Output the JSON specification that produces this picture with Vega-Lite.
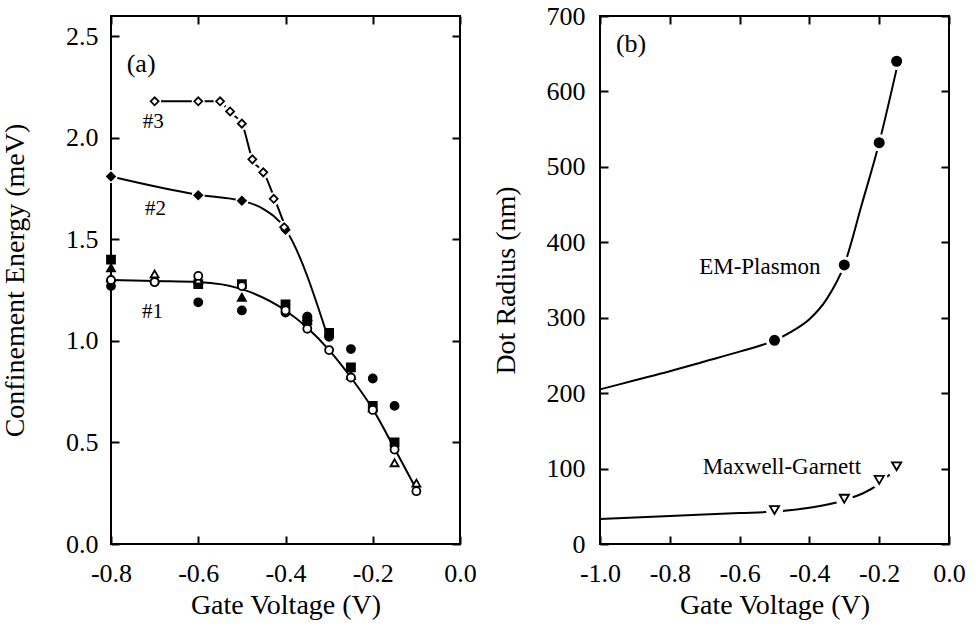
{
  "$schema": "https://vega.github.io/schema/vega-lite/v6.json",
  "background": "white",
  "padding": {"left": 0, "top": 2, "right": 5, "bottom": 5},
  "spacing": 140,
  "bounds": "flush",
  "resolve": {"scale": {"shape": "independent", "fill": "independent", "strokeDash": "independent"}},
  "datasets": {
    "leftLines": [
      {"s": "#1", "v": -0.8, "e": 1.30}, {"s": "#1", "v": -0.7, "e": 1.295}, {"s": "#1", "v": -0.6, "e": 1.29},
      {"s": "#1", "v": -0.5, "e": 1.255}, {"s": "#1", "v": -0.4, "e": 1.15}, {"s": "#1", "v": -0.35, "e": 1.065},
      {"s": "#1", "v": -0.3, "e": 0.955}, {"s": "#1", "v": -0.25, "e": 0.82}, {"s": "#1", "v": -0.2, "e": 0.665},
      {"s": "#1", "v": -0.15, "e": 0.47}, {"s": "#1", "v": -0.1, "e": 0.27},
      {"s": "#2", "v": -0.8, "e": 1.81}, {"s": "#2", "v": -0.6, "e": 1.72}, {"s": "#2", "v": -0.5, "e": 1.69},
      {"s": "#2", "v": -0.455, "e": 1.655}, {"s": "#2", "v": -0.4, "e": 1.55}, {"s": "#2", "v": -0.3, "e": 1.0},
      {"s": "#3", "v": -0.7, "e": 2.18}, {"s": "#3", "v": -0.6, "e": 2.18}, {"s": "#3", "v": -0.55, "e": 2.18},
      {"s": "#3", "v": -0.53, "e": 2.13}, {"s": "#3", "v": -0.5, "e": 2.07}, {"s": "#3", "v": -0.475, "e": 1.89},
      {"s": "#3", "v": -0.45, "e": 1.83}, {"s": "#3", "v": -0.425, "e": 1.70}, {"s": "#3", "v": -0.4, "e": 1.56}
    ],
    "leftPts": [
      {"m": "filled square", "v": -0.8, "e": 1.40}, {"m": "filled square", "v": -0.6, "e": 1.28}, {"m": "filled square", "v": -0.5, "e": 1.28},
      {"m": "filled square", "v": -0.4, "e": 1.18}, {"m": "filled square", "v": -0.35, "e": 1.10}, {"m": "filled square", "v": -0.3, "e": 1.04},
      {"m": "filled square", "v": -0.25, "e": 0.87}, {"m": "filled square", "v": -0.2, "e": 0.68}, {"m": "filled square", "v": -0.15, "e": 0.50},
      {"m": "filled triangle", "v": -0.5, "e": 1.215}, {"m": "filled triangle", "v": -0.8, "e": 1.36}, {"m": "filled triangle", "v": -0.35, "e": 1.12},
      {"m": "filled circle", "v": -0.8, "e": 1.27}, {"m": "filled circle", "v": -0.7, "e": 1.29}, {"m": "filled circle", "v": -0.6, "e": 1.19},
      {"m": "filled circle", "v": -0.5, "e": 1.15}, {"m": "filled circle", "v": -0.4, "e": 1.14}, {"m": "filled circle", "v": -0.35, "e": 1.12},
      {"m": "filled circle", "v": -0.3, "e": 1.02}, {"m": "filled circle", "v": -0.25, "e": 0.96}, {"m": "filled circle", "v": -0.2, "e": 0.815},
      {"m": "filled circle", "v": -0.15, "e": 0.68},
      {"m": "open triangle", "v": -0.8, "e": 1.31}, {"m": "open triangle", "v": -0.7, "e": 1.33}, {"m": "open triangle", "v": -0.6, "e": 1.30},
      {"m": "open triangle", "v": -0.25, "e": 0.83}, {"m": "open triangle", "v": -0.2, "e": 0.67}, {"m": "open triangle", "v": -0.15, "e": 0.40},
      {"m": "open triangle", "v": -0.1, "e": 0.30},
      {"m": "open circle", "v": -0.8, "e": 1.30}, {"m": "open circle", "v": -0.7, "e": 1.29}, {"m": "open circle", "v": -0.6, "e": 1.32},
      {"m": "open circle", "v": -0.5, "e": 1.27}, {"m": "open circle", "v": -0.4, "e": 1.15}, {"m": "open circle", "v": -0.35, "e": 1.06},
      {"m": "open circle", "v": -0.3, "e": 0.955}, {"m": "open circle", "v": -0.25, "e": 0.82}, {"m": "open circle", "v": -0.2, "e": 0.66},
      {"m": "open circle", "v": -0.15, "e": 0.465}, {"m": "open circle", "v": -0.1, "e": 0.26},
      {"m": "filled diamond", "v": -0.8, "e": 1.81}, {"m": "filled diamond", "v": -0.6, "e": 1.717}, {"m": "filled diamond", "v": -0.5, "e": 1.69},
      {"m": "filled diamond", "v": -0.4, "e": 1.547},
      {"m": "open diamond", "v": -0.7, "e": 2.18}, {"m": "open diamond", "v": -0.6, "e": 2.18}, {"m": "open diamond", "v": -0.55, "e": 2.18},
      {"m": "open diamond", "v": -0.527, "e": 2.13}, {"m": "open diamond", "v": -0.5, "e": 2.07}, {"m": "open diamond", "v": -0.476, "e": 1.894},
      {"m": "open diamond", "v": -0.451, "e": 1.83}, {"m": "open diamond", "v": -0.427, "e": 1.70}, {"m": "open diamond", "v": -0.403, "e": 1.56}
    ],
    "leftText": [
      {"t": "#3", "k": "small", "v": -0.703, "e": 2.076},
      {"t": "#2", "k": "small", "v": -0.698, "e": 1.649},
      {"t": "#1", "k": "small", "v": -0.705, "e": 1.142},
      {"t": "(a)", "k": "big", "v": -0.731, "e": 2.365}
    ],
    "rightLines": [
      {"s": "EM", "v": -1.0, "r": 205}, {"s": "EM", "v": -0.9, "r": 217}, {"s": "EM", "v": -0.8, "r": 229},
      {"s": "EM", "v": -0.7, "r": 242}, {"s": "EM", "v": -0.6, "r": 255}, {"s": "EM", "v": -0.5, "r": 270},
      {"s": "EM", "v": -0.45, "r": 282}, {"s": "EM", "v": -0.4, "r": 298}, {"s": "EM", "v": -0.35, "r": 325},
      {"s": "EM", "v": -0.3, "r": 370}, {"s": "EM", "v": -0.25, "r": 450}, {"s": "EM", "v": -0.2, "r": 532},
      {"s": "EM", "v": -0.15, "r": 630},
      {"s": "MG", "v": -1.0, "r": 33}, {"s": "MG", "v": -0.8, "r": 37}, {"s": "MG", "v": -0.6, "r": 41},
      {"s": "MG", "v": -0.5, "r": 43}, {"s": "MG", "v": -0.4, "r": 48}, {"s": "MG", "v": -0.3, "r": 58},
      {"s": "MG", "v": -0.2, "r": 80}, {"s": "MG", "v": -0.17, "r": 92}
    ],
    "rightPts": [
      {"m": "EM", "v": -0.5, "r": 270}, {"m": "EM", "v": -0.3, "r": 370}, {"m": "EM", "v": -0.2, "r": 532}, {"m": "EM", "v": -0.15, "r": 640},
      {"m": "MG", "v": -0.5, "r": 45}, {"m": "MG", "v": -0.3, "r": 60}, {"m": "MG", "v": -0.2, "r": 85}, {"m": "MG", "v": -0.15, "r": 103}
    ],
    "rightText": [
      {"t": "(b)", "k": "big", "v": -0.911, "r": 663},
      {"t": "EM-Plasmon", "k": "mid", "v": -0.542, "r": 367},
      {"t": "Maxwell-Garnett", "k": "mid", "v": -0.479, "r": 102}
    ]
  },
  "hconcat": [
    {
      "width": 349,
      "height": 528,
      "resolve": {"axis": {"x": "independent", "y": "independent"}},
      "layer": [
        {
          "data": {"name": "leftLines"},
          "mark": {"type": "line", "interpolate": "monotone", "color": "black", "strokeWidth": 2},
          "encoding": {
            "x": {"field": "v", "type": "quantitative", "scale": {"domain": [-0.8, 0]},
              "axis": {"values": [-0.8, -0.6, -0.4, -0.2, 0], "format": ".1f", "labelExpr": "replace(datum.label, '\u2212', '-')", "title": "Gate Voltage (V)", "labelPadding": 24, "titlePadding": 5}},
            "y": {"field": "e", "type": "quantitative", "scale": {"domain": [0, 2.5]},
              "axis": {"values": [0, 0.5, 1, 1.5, 2, 2.5], "format": ".1f", "title": "Confinement Energy (meV)", "labelPadding": 21, "titlePadding": 36}},
            "detail": {"field": "s"}
          }
        },
        {
          "data": {"name": "leftPts"},
          "transform": [{"filter": "datum.m == 'open diamond' || datum.m == 'filled diamond'"}],
          "mark": {"type": "point", "shape": "circle", "filled": true, "color": "white", "opacity": 1, "size": 170},
          "encoding": {
            "x": {"field": "v", "type": "quantitative", "axis": null},
            "y": {"field": "e", "type": "quantitative", "axis": null}
          }
        },
        {
          "data": {"name": "leftPts"},
          "mark": {"type": "point", "filled": true, "stroke": "black", "strokeWidth": 1.8, "opacity": 1, "size": 64},
          "encoding": {
            "x": {"field": "v", "type": "quantitative", "axis": null},
            "y": {"field": "e", "type": "quantitative", "axis": null},
            "shape": {"field": "m", "type": "nominal", "legend": null,
              "scale": {"domain": ["filled square", "filled triangle", "filled circle", "open triangle", "open circle", "filled diamond", "open diamond"],
                        "range": ["square", "triangle-up", "circle", "triangle-up", "circle", "diamond", "diamond"]}},
            "fill": {"field": "m", "type": "nominal", "legend": null,
              "scale": {"domain": ["filled square", "filled triangle", "filled circle", "open triangle", "open circle", "filled diamond", "open diamond"],
                        "range": ["black", "black", "black", "white", "white", "black", "white"]}}
          }
        },
        {
          "data": {"name": "leftText"},
          "transform": [{"filter": "datum.k == 'small'"}],
          "mark": {"type": "text", "fontSize": 21, "font": "Liberation Serif", "color": "black", "align": "center", "baseline": "middle"},
          "encoding": {
            "x": {"field": "v", "type": "quantitative", "axis": null},
            "y": {"field": "e", "type": "quantitative", "axis": null},
            "text": {"field": "t"}
          }
        },
        {
          "data": {"name": "leftText"},
          "transform": [{"filter": "datum.k == 'big'"}],
          "mark": {"type": "text", "fontSize": 26, "font": "Liberation Serif", "color": "black", "align": "center", "baseline": "middle"},
          "encoding": {
            "x": {"field": "v", "type": "quantitative", "axis": null},
            "y": {"field": "e", "type": "quantitative", "axis": null},
            "text": {"field": "t"}
          }
        },
        {
          "data": {"name": "leftLines"},
          "mark": {"type": "point", "opacity": 0},
          "encoding": {
            "x": {"field": "v", "type": "quantitative", "axis": {"orient": "top", "labels": false, "title": null, "values": [-0.8, -0.6, -0.4, -0.2, 0]}},
            "y": {"field": "e", "type": "quantitative", "axis": {"orient": "right", "labels": false, "title": null, "values": [0, 0.5, 1, 1.5, 2, 2.5]}}
          }
        }
      ]
    },
    {
      "width": 349,
      "height": 528,
      "resolve": {"axis": {"x": "independent", "y": "independent"}},
      "layer": [
        {
          "data": {"name": "rightLines"},
          "mark": {"type": "line", "interpolate": "monotone", "color": "black", "strokeWidth": 2},
          "encoding": {
            "x": {"field": "v", "type": "quantitative", "scale": {"domain": [-1.0, 0]},
              "axis": {"values": [-1.0, -0.8, -0.6, -0.4, -0.2, 0], "format": ".1f", "labelExpr": "replace(datum.label, '\u2212', '-')", "title": "Gate Voltage (V)", "labelPadding": 24, "titlePadding": 5}},
            "y": {"field": "r", "type": "quantitative", "scale": {"domain": [0, 700]},
              "axis": {"values": [0, 100, 200, 300, 400, 500, 600, 700], "format": "d", "title": "Dot Radius (nm)", "labelPadding": 23, "titlePadding": 26}},
            "detail": {"field": "s"}
          }
        },
        {
          "data": {"name": "rightPts"},
          "mark": {"type": "point", "shape": "circle", "filled": true, "color": "white", "opacity": 1, "size": 300},
          "encoding": {
            "x": {"field": "v", "type": "quantitative", "axis": null},
            "y": {"field": "r", "type": "quantitative", "axis": null}
          }
        },
        {
          "data": {"name": "rightPts"},
          "mark": {"type": "point", "filled": true, "stroke": "black", "strokeWidth": 1.8, "opacity": 1, "size": 85},
          "encoding": {
            "x": {"field": "v", "type": "quantitative", "axis": null},
            "y": {"field": "r", "type": "quantitative", "axis": null},
            "shape": {"field": "m", "type": "nominal", "legend": null, "scale": {"domain": ["EM", "MG"], "range": ["circle", "triangle-down"]}},
            "fill": {"field": "m", "type": "nominal", "legend": null, "scale": {"domain": ["EM", "MG"], "range": ["black", "white"]}}
          }
        },
        {
          "data": {"name": "rightText"},
          "transform": [{"filter": "datum.k == 'mid'"}],
          "mark": {"type": "text", "fontSize": 23, "font": "Liberation Serif", "color": "black", "align": "center", "baseline": "middle"},
          "encoding": {
            "x": {"field": "v", "type": "quantitative", "axis": null},
            "y": {"field": "r", "type": "quantitative", "axis": null},
            "text": {"field": "t"}
          }
        },
        {
          "data": {"name": "rightText"},
          "transform": [{"filter": "datum.k == 'big'"}],
          "mark": {"type": "text", "fontSize": 26, "font": "Liberation Serif", "color": "black", "align": "center", "baseline": "middle"},
          "encoding": {
            "x": {"field": "v", "type": "quantitative", "axis": null},
            "y": {"field": "r", "type": "quantitative", "axis": null},
            "text": {"field": "t"}
          }
        },
        {
          "data": {"name": "rightLines"},
          "mark": {"type": "point", "opacity": 0},
          "encoding": {
            "x": {"field": "v", "type": "quantitative", "axis": {"orient": "top", "labels": false, "title": null, "values": [-1.0, -0.8, -0.6, -0.4, -0.2, 0]}},
            "y": {"field": "r", "type": "quantitative", "axis": {"orient": "right", "labels": false, "title": null, "values": [0, 100, 200, 300, 400, 500, 600, 700]}}
          }
        }
      ]
    }
  ],
  "config": {
    "font": "Liberation Serif",
    "view": {"stroke": "black", "strokeWidth": 2},
    "axis": {
      "domain": false,
      "grid": false,
      "ticks": true,
      "tickColor": "black",
      "tickWidth": 2,
      "tickSize": -8,
      "labelColor": "black",
      "labelFont": "Liberation Serif",
      "labelFontSize": 26,
      "titleFont": "Liberation Serif",
      "titleFontSize": 28,
      "titleFontWeight": "normal",
      "titleColor": "black",
      "labelFlush": false,
      "labelOverlap": false
    }
  }
}
